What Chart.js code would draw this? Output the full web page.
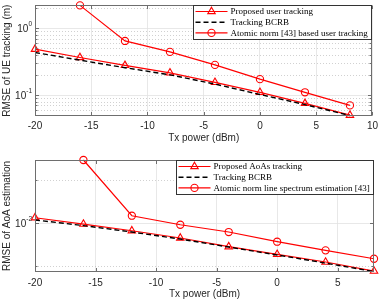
<!DOCTYPE html>
<html>
<head>
<meta charset="utf-8">
<script src="https://cdn.jsdelivr.net/npm/chart.js@4.4.1/dist/chart.umd.min.js"></script>
<style>
  html, body { margin: 0; padding: 0; background: #fff; }
  .panel { position: relative; width: 382px; }
</style>
</head>
<body>
<div class="panel" style="height:150px"><canvas id="ue"></canvas></div>
<div class="panel" style="height:151px"><canvas id="aoa"></canvas></div>
<script>
const txPower = [-20, -16, -12, -8, -4, 0, 4, 8];

// top panel: RMSE of UE tracking (m)
const ueProposed = [0.486, 0.365, 0.278, 0.215, 0.155, 0.110, 0.075, 0.050];
const ueBcrb     = [0.434, 0.333, 0.257, 0.201, 0.146, 0.102, 0.072, 0.0494];
const ueAtomic   = [null, 2.2, 0.646, 0.443, 0.283, 0.173, 0.110, 0.070];

// bottom panel: RMSE of AoA estimation
const aoaProposed = [0.01088, 0.00984, 0.00884, 0.00787, 0.00685, 0.00606, 0.00536, 0.00464];
const aoaBcrb     = [0.0105, 0.0096, 0.00866, 0.00774, 0.00681, 0.0060, 0.00527, 0.0046];
const aoaAtomic   = [null, 0.0274, 0.01124, 0.00973, 0.00866, 0.00742, 0.00646, 0.00565];

const ueXTicks = [-20, -15, -10, -5, 0, 5, 10];
const aoaXTicks = [-20, -15, -10, -5, 0, 5];
const ueYTicks = [1, 0.1];
const ueYExp = ['0', '-1'];
const aoaYTicks = [0.01];
const aoaYExp = ['-2'];
const ueMinor = [0.05, 0.06, 0.07, 0.08, 0.09, 0.2, 0.3, 0.4, 0.5, 0.6, 0.7, 0.8, 0.9, 2];
const aoaMinor = [0.005, 0.02];

const ueLabels = ['Proposed user tracking', 'Tracking BCRB', 'Atomic norm [43] based user tracking'];
const aoaLabels = ['Proposed AoAs tracking', 'Tracking BCRB', 'Atomic norm line spectrum estimation [43]'];

const RED = '#ff0000';
const AXIS_FONT = 'Liberation Sans, Arial, sans-serif';
const TEXT = '#262626';
const BOX = '#6e6e6e';

function pts(vals) {
  return txPower.map((x, i) => ({ x: x, y: vals[i] })).filter(p => p.y !== null);
}

function series(labels, a, b, c) {
  return [
    { label: labels[0], data: pts(a), borderColor: RED, borderWidth: 1.2, pointStyle: 'triangle',
      pointRadius: 4.3, pointBorderWidth: 1.1, pointBorderColor: RED, pointBackgroundColor: 'rgba(0,0,0,0)', order: 3 },
    { label: labels[1], data: pts(b), borderColor: '#000', borderWidth: 1.4, borderDash: [5, 3],
      pointRadius: 0, order: 2 },
    { label: labels[2], data: pts(c), borderColor: RED, borderWidth: 1.2, pointStyle: 'circle',
      pointRadius: 3.6, pointBorderWidth: 1.1, pointBorderColor: RED, pointBackgroundColor: 'rgba(0,0,0,0)', order: 1 }
  ];
}

const panelPlugin = {
  id: 'panel',
  beforeDatasetsDraw(chart, args, opts) {
    const { ctx, chartArea: a, scales: { y } } = chart;
    ctx.save();
    ctx.strokeStyle = '#bdbdbd';
    ctx.lineWidth = 0.7;
    ctx.setLineDash([1, 2]);
    for (const v of opts.minor) {
      const py = Math.round(y.getPixelForValue(v)) + 0.5;
      ctx.beginPath(); ctx.moveTo(a.left, py); ctx.lineTo(a.right, py); ctx.stroke();
    }
    ctx.restore();
  },
  afterDraw(chart, args, opts) {
    const { ctx, chartArea: a, scales: { x, y } } = chart;
    ctx.save();
    // axes box with inward tick marks
    ctx.strokeStyle = BOX;
    ctx.lineWidth = 1;
    const L = Math.round(a.left) + 0.5, R = Math.round(a.right) - 0.5;
    const T = Math.round(a.top) + 0.5, B = Math.round(a.bottom) - 0.5;
    ctx.strokeRect(L, T, R - L, B - T);
    ctx.beginPath();
    const yt = [...opts.yTicks.map(v => [v, 3.5]), ...opts.minor.map(v => [v, 2])];
    for (const [v, len] of yt) {
      const py = Math.round(y.getPixelForValue(v)) + 0.5;
      ctx.moveTo(L, py); ctx.lineTo(L + len, py);
      ctx.moveTo(R, py); ctx.lineTo(R - len, py);
    }
    for (const t of x.ticks) {
      const px = Math.round(x.getPixelForValue(t.value)) + 0.5;
      ctx.moveTo(px, B); ctx.lineTo(px, B - 3.5);
      ctx.moveTo(px, T); ctx.lineTo(px, T + 3.5);
    }
    ctx.stroke();

    // y tick labels 10^k
    ctx.fillStyle = TEXT;
    ctx.textBaseline = 'middle';
    opts.yTicks.forEach((v, i) => {
      const py = y.getPixelForValue(v);
      ctx.font = '6.5px ' + AXIS_FONT;
      const ew = ctx.measureText(opts.yExp[i]).width;
      ctx.textAlign = 'right';
      const xr = a.left - 3;
      ctx.fillText(opts.yExp[i], xr, py - 4);
      ctx.font = '10px ' + AXIS_FONT;
      ctx.fillText('10', xr - ew, py + 1);
    });

    // legend
    const lg = opts.legend;
    ctx.font = '9px "Liberation Serif", "Times New Roman", serif';
    const tw = Math.max(...chart.data.datasets.map(d => ctx.measureText(d.label).width));
    const right = Math.round(a.right) - 0.5;
    const top = Math.round(a.top) + 0.5;
    const left = Math.round(right - (37 + tw + 4)) + 0.5;
    ctx.fillStyle = '#fff';
    ctx.fillRect(left, top, right - left, lg.height);
    ctx.strokeStyle = '#333';
    ctx.lineWidth = 1;
    ctx.strokeRect(left, top, right - left, lg.height);
    chart.data.datasets.forEach((d, i) => {
      const ry = top + 6 + i * lg.rowH;
      ctx.save();
      ctx.strokeStyle = d.borderColor;
      ctx.lineWidth = d.borderWidth;
      ctx.setLineDash(d.borderDash || []);
      ctx.beginPath(); ctx.moveTo(left + 2, ry); ctx.lineTo(left + 34, ry); ctx.stroke();
      ctx.setLineDash([]);
      if (d.pointRadius > 0) {
        ctx.lineWidth = d.pointBorderWidth;
        ctx.fillStyle = 'rgba(0,0,0,0)';
        Chart.helpers.drawPoint(ctx, { pointStyle: d.pointStyle, radius: d.pointRadius, rotation: 0, borderWidth: d.pointBorderWidth }, left + 18, ry);
      }
      ctx.restore();
      ctx.fillStyle = '#000';
      ctx.textAlign = 'left';
      ctx.textBaseline = 'middle';
      ctx.fillText(d.label, left + 37, ry + 0.5);
    });
    ctx.restore();
  }
};

function makeChart(id, cfg) {
  return new Chart(document.getElementById(id), {
    type: 'line',
    data: { datasets: series(cfg.labels, cfg.a, cfg.b, cfg.c) },
    plugins: [panelPlugin],
    options: {
      responsive: true,
      maintainAspectRatio: false,
      animation: false,
      devicePixelRatio: 1,
      datasets: { line: { clip: false, tension: 0, spanGaps: true } },
      layout: { padding: { top: cfg.padTop, right: 8, left: 0, bottom: 0 } },
      plugins: {
        legend: { display: false },
        tooltip: { enabled: false },
        panel: { minor: cfg.minor, yTicks: cfg.yTicks, yExp: cfg.yExp, legend: { height: 34, rowH: 10.7 } }
      },
      scales: {
        x: {
          type: 'linear', min: cfg.xMin, max: cfg.xMax,
          afterBuildTicks: s => { s.ticks = cfg.xTicks.map(v => ({ value: v })); },
          afterFit: s => { s.height = cfg.xHeight; },
          grid: { color: '#e2e2e2', lineWidth: 0.8, drawTicks: false },
          border: { display: false },
          ticks: { color: TEXT, font: { family: AXIS_FONT, size: 10 }, padding: cfg.tickPad, maxRotation: 0, autoSkip: false },
          title: { display: true, text: 'Tx power (dBm)', color: TEXT, font: { family: AXIS_FONT, size: 10 },
                   padding: { top: 0, bottom: cfg.titlePad } }
        },
        y: {
          type: 'logarithmic', min: cfg.yMin, max: cfg.yMax,
          afterBuildTicks: s => { s.ticks = cfg.yTicks.map(v => ({ value: v })); },
          afterFit: s => { s.width = 35; },
          grid: { color: '#e2e2e2', lineWidth: 0.8, drawTicks: false },
          border: { display: false },
          ticks: { display: false },
          title: { display: true, text: cfg.yTitle, color: TEXT, font: { family: AXIS_FONT, size: 10 },
                   padding: { top: 1, bottom: 0 } }
        }
      }
    }
  });
}

makeChart('ue', {
  labels: ueLabels, a: ueProposed, b: ueBcrb, c: ueAtomic,
  xMin: -20, xMax: 10, xTicks: ueXTicks, yMin: 0.0486, yMax: 2.2,
  yTicks: ueYTicks, yExp: ueYExp, minor: ueMinor,
  padTop: 5, xHeight: 34, tickPad: 4, titlePad: 6, yTitle: 'RMSE of UE tracking (m)'
});

makeChart('aoa', {
  labels: aoaLabels, a: aoaProposed, b: aoaBcrb, c: aoaAtomic,
  xMin: -20, xMax: 8, xTicks: aoaXTicks, yMin: 0.00457, yMax: 0.0274,
  yTicks: aoaYTicks, yExp: aoaYExp, minor: aoaMinor,
  padTop: 10, xHeight: 29, tickPad: 5, titlePad: 1, yTitle: 'RMSE of AoA estimation'
});
</script>
</body>
</html>
